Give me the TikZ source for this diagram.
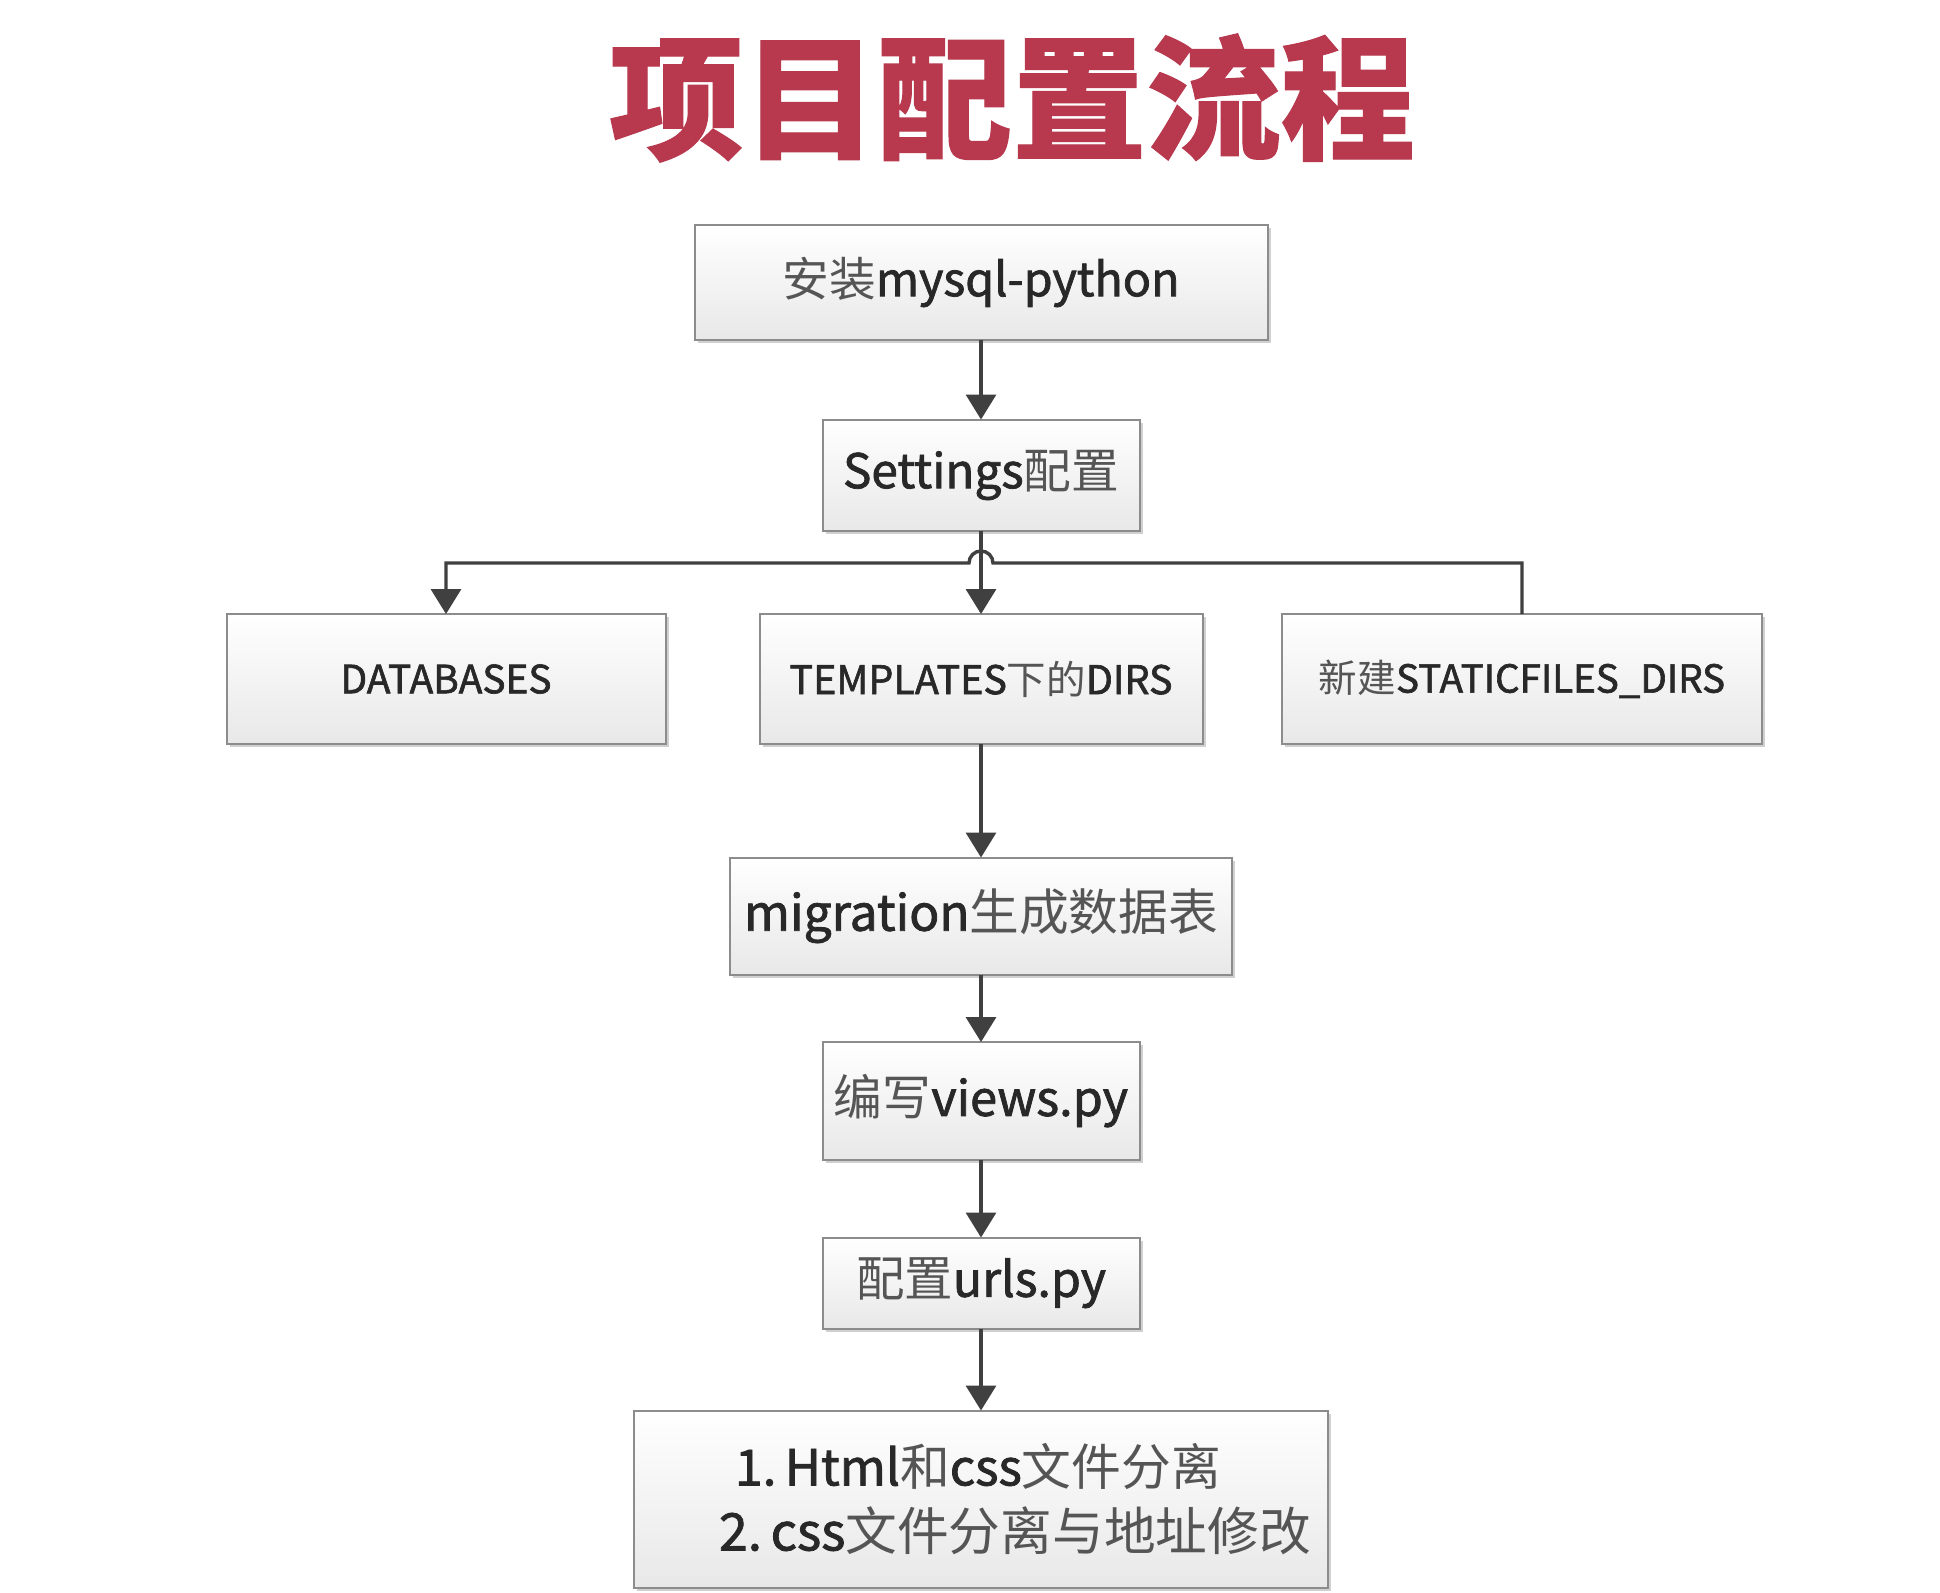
\documentclass[tikz,border=0pt]{standalone}
\usepackage{fontspec}
\usepackage{graphicx}
\newfontfamily\cjk{Noto Sans CJK SC}
\newfontfamily\lat[FakeBold=1.6]{Noto Sans CJK SC}
\newfontfamily\titlefont[FakeBold=0.8]{Noto Sans CJK SC}
\usetikzlibrary{arrows.meta,shadows}
\definecolor{titlered}{RGB}{184,56,78}
\definecolor{linegray}{RGB}{64,64,64}
\definecolor{boxborder}{RGB}{140,140,140}
\definecolor{txtgray}{RGB}{40,40,40}
\definecolor{cjkgray}{RGB}{85,85,85}
\newcommand\fitw[2]{\resizebox{#1}{!}{#2}}
\newcommand\zh[1]{{\cjk\color{cjkgray}#1}}
\tikzset{
  flowbox/.style={draw=boxborder, line width=1pt, top color=white, bottom color=black!9,
    inner sep=0pt, outer sep=0pt, font=\lat, text=txtgray,
    drop shadow={shadow xshift=1.5pt, shadow yshift=-1.5pt, fill=black!30, opacity=0.6}},
  flowarrow/.style={draw=linegray, line width=1.7pt, -{Triangle[width=15pt,length=12.5pt]}},
}
\begin{document}
\begin{tikzpicture}[x=0.5pt,y=-0.5pt]
\useasboundingbox[fill=white] (0,0) rectangle (1940,1592);
\node[font=\titlefont\bfseries, text=titlered, inner sep=0pt] (title) at (1012,98) {\fitw{403pt}{项目配置流程}};
\node[flowbox, minimum width=286.5pt, minimum height=57.5pt] (install) at (981,282) {\fitw{198.5pt}{\zh{安装}mysql-python}};
\node[flowbox, minimum width=158.5pt, minimum height=55.5pt] (settings) at (981,475) {\fitw{138pt}{Settings\zh{配置}}};
\node[flowbox, minimum width=219.5pt, minimum height=65pt] (db) at (446,679) {\fitw{105.5pt}{DATABASES}};
\node[flowbox, minimum width=221.5pt, minimum height=65pt] (tpl) at (981,679) {\fitw{191.5pt}{TEMPLATES\zh{下的}DIRS}};
\node[flowbox, minimum width=240pt, minimum height=65pt] (static) at (1522,679) {\fitw{203pt}{\zh{新建}STATICFILES\_DIRS}};
\node[flowbox, minimum width=251pt, minimum height=58.5pt] (mig) at (981,916) {\fitw{237pt}{migration\zh{生成数据表}}};
\node[flowbox, minimum width=158.5pt, minimum height=59pt] (views) at (981,1101) {\fitw{147pt}{\zh{编写}views.py}};
\node[flowbox, minimum width=158.5pt, minimum height=45.5pt] (urls) at (981,1283) {\fitw{125pt}{\zh{配置}urls.py}};
\node[flowbox, minimum width=347pt, minimum height=88.5pt, text width=347pt, align=left,
  font=\lat\fontsize{24pt}{32.5pt}\selectfont] (split) at (981,1499)
  {\hspace*{50.5pt}\fitw{243pt}{1.\,Html\zh{和}css\zh{文件分离}}\\\hspace*{42.5pt}\fitw{296pt}{2.\,css\zh{文件分离与地址修改}}};
\coordinate (hopR) at (993,563);
\draw[flowarrow] (install.south) -- (settings.north);
\draw[flowarrow] (settings.south) -- (tpl.north);
\draw[flowarrow] (static.north) |- (hopR) arc[start angle=0, end angle=180, radius=6pt] -- (db.north |- hopR) -- (db.north);
\draw[flowarrow] (tpl.south) -- (mig.north);
\draw[flowarrow] (mig.south) -- (views.north);
\draw[flowarrow] (views.south) -- (urls.north);
\draw[flowarrow] (urls.south) -- (split.north);
\end{tikzpicture}
\end{document}
